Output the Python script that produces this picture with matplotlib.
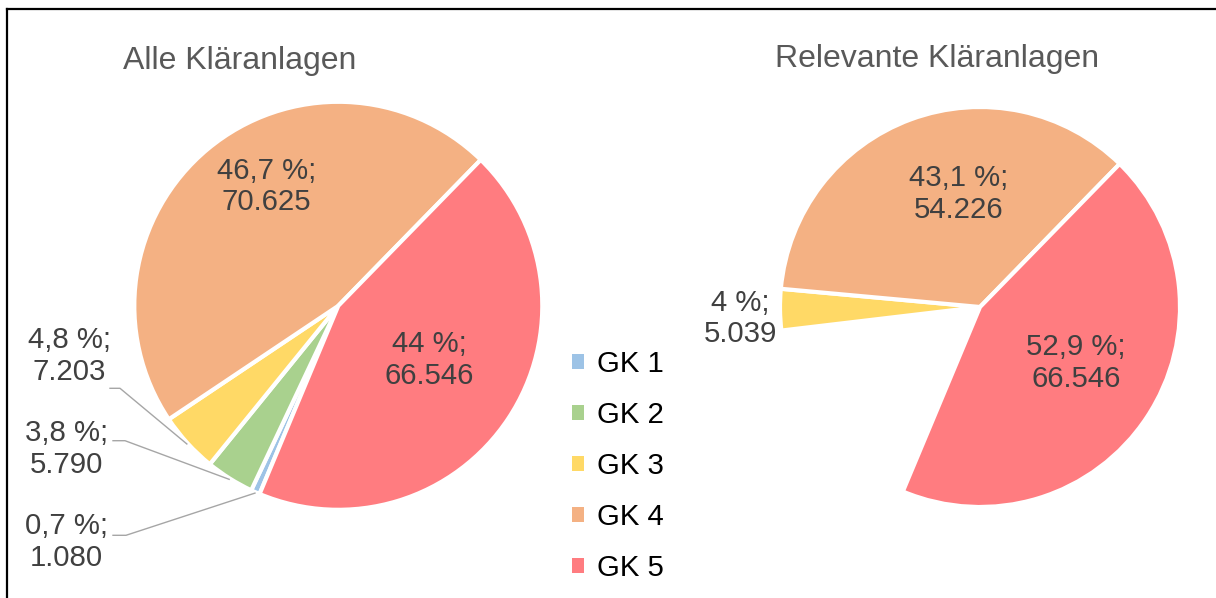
import numpy as np
import matplotlib
matplotlib.use("Agg")
import matplotlib.pyplot as plt

plt.rcParams['font.family'] = ['Liberation Sans', 'DejaVu Sans']

# data
categories = ['GK 1', 'GK 2', 'GK 3', 'GK 4', 'GK 5']
alle = [1080, 5790, 7203, 70625, 66546]          # Alle Kläranlagen
relevant_cats = ['GK 3', 'GK 4', 'GK 5']
relevant = [5039, 54226, 66546]                   # Relevante Kläranlagen
titles = ['Alle Kläranlagen', 'Relevante Kläranlagen']

colors = {'GK 1': '#9DC3E6', 'GK 2': '#A9D18E', 'GK 3': '#FFD966',
          'GK 4': '#F4B183', 'GK 5': '#FF7C80'}
txt_col = '#404040'

W, H = 1216, 598
START = 247.3


def fmt(v, total):
    p = 100.0 * v / total
    s = f"{p:.1f}".rstrip('0').rstrip('.').replace('.', ',')
    n = f"{v:,}".replace(',', '.')
    return f"{s} %;\n{n}"


def mid_point(w, cx, cy, r):
    a = np.deg2rad((w.theta1 + w.theta2) / 2)
    return cx + r * np.cos(a), cy + r * np.sin(a)


fig = plt.figure(figsize=(W / 100, H / 100), dpi=100)
ax = fig.add_axes([0, 0, 1, 1])

wp = dict(edgecolor='white', linewidth=3.0)

# left pie
c1 = (338.3, H - 305.8)
r1 = 204
w1, _ = ax.pie(alle, colors=[colors[c] for c in categories], startangle=START,
               counterclock=False, center=c1, radius=r1, wedgeprops=wp)

# right pie: same scale as the left one, the not relevant part stays empty
c2 = (980, H - 307)
r2 = 200
rest = sum(alle) - sum(relevant)
w2, _ = ax.pie([rest] + relevant, colors=['none'] + [colors[c] for c in relevant_cats],
               startangle=START, counterclock=False, center=c2, radius=r2, wedgeprops=wp)
w2[0].set_visible(False)

fs = 21.2
ls = 1.17
tot1 = sum(alle)
tot2 = sum(relevant)

# labels inside
inside1 = {'GK 4': (266.5, 186.5), 'GK 5': (429, 360)}
for cat, (x, y) in inside1.items():
    v = alle[categories.index(cat)]
    ax.text(x, H - y, fmt(v, tot1), ha='center', va='center', fontsize=fs,
            color=txt_col, linespacing=ls)

inside2 = {'GK 4': (959, 194), 'GK 5': (1076, 363)}
for cat, (x, y) in inside2.items():
    v = relevant[relevant_cats.index(cat)]
    ax.text(x, H - y, fmt(v, tot2), ha='center', va='center', fontsize=fs,
            color=txt_col, linespacing=ls)

# outside labels with leader lines (left pie)
outside1 = {'GK 3': (69, 356, 110, 388.3, 120),
            'GK 2': (66.5, 449, 113, 440.7, 125),
            'GK 1': (66.5, 542, 113, 535.3, 126)}
for cat, (x, y, lx0, ly, lx1) in outside1.items():
    i = categories.index(cat)
    ax.text(x, H - y, fmt(alle[i], tot1), ha='center', va='center', fontsize=fs,
            color=txt_col, linespacing=ls)
    px, py = mid_point(w1[i], c1[0], c1[1], r1 + 1)
    ax.plot([lx0, lx1, px], [H - ly, H - ly, py], color='#A6A6A6', lw=1.0)

# outside label right pie
ax.text(740.5, H - 318.5, fmt(relevant[0], tot2), ha='center', va='center',
        fontsize=fs, color=txt_col, linespacing=ls)

# titles
ax.text(239.5, H - 61, titles[0], ha='center', va='center', fontsize=23, color='#595959')
ax.text(937, H - 59, titles[1], ha='center', va='center', fontsize=23, color='#595959')

# legend
leg = ax.legend(w1, categories, loc='upper left', bbox_to_anchor=(572 / W, 1 - 350 / H),
                bbox_transform=fig.transFigure, frameon=False, fontsize=fs,
                handlelength=0.42, handleheight=0.42, handletextpad=0.42,
                labelspacing=0.78, borderpad=0, borderaxespad=0)
for h in leg.legend_handles:
    h.set_edgecolor('none')

# frame lines (top and left only)
ax.plot([6.5, 6.5], [0, H - 9], color='black', lw=1.6, solid_capstyle='projecting')
ax.plot([6.5, W], [H - 9, H - 9], color='black', lw=1.6, solid_capstyle='projecting')

ax.set_xlim(0, W)
ax.set_ylim(0, H)
ax.set_aspect('equal')
ax.axis('off')

fig.savefig('out.png', dpi=100)
